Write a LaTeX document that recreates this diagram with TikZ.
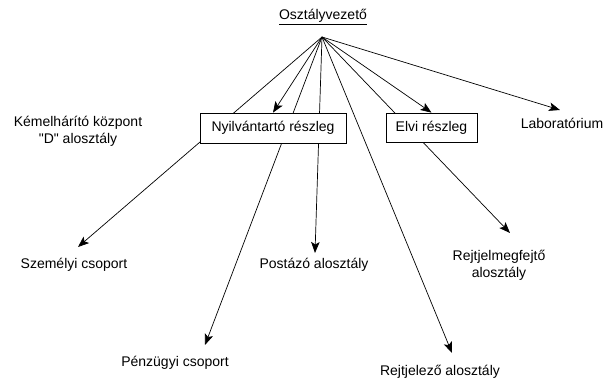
\documentclass[tikz,border=0pt]{standalone}
\usepackage{fontspec}
\setmainfont{Liberation Sans}
\usetikzlibrary{arrows.meta}
\begin{document}
\begin{tikzpicture}[x=1pt,y=1pt,yscale=-1,xscale=1,
        every node/.style={font=\fontsize{14}{17}\selectfont},
        vonal/.style={line width=0.7pt},
        nyil/.style={vonal,-{Stealth[length=11pt,width=8.5pt,inset=2.5pt]}},
        reszleg/.style={draw,line width=0.7pt,fill=white,inner sep=0pt}]
        \useasboundingbox (0,0) rectangle (606,379);
        %Shape: Hub point
        \coordinate (hub) at (322,37);
        \coordinate (szemelyi-tip) at (78,247);
        \coordinate (penzugyi-tip) at (205,345);
        \coordinate (postazo-tip) at (315,253);
        \coordinate (rejtjelezo-tip) at (452,353);
        \coordinate (megfejto-tip) at (510,233);
        \coordinate (labor-tip) at (560,110);

        % Text Node
        \node (boss) at (323,17) {\underline{Osztályvezető}};
        % Text Node
        \node (kemel) [align=center] at (78,131.5) {Kémelhárító központ\\\textquotedbl D\textquotedbl\ alosztály};
        % Text Node
        \node (labor) at (562,123) {Laboratórium};
        % Text Node
        \node (szemelyi) at (74,265) {Személyi csoport};
        % Text Node
        \node (postazo) at (314,265) {Postázó alosztály};
        % Text Node
        \node (megfejto) [align=center] at (499,265) {Rejtjelmegfejtő\\alosztály};
        % Text Node
        \node (penzugyi) at (175,363) {Pénzügyi csoport};
        % Text Node
        \node (rejtjelezo) at (440,372) {Rejtjelező alosztály};

        %Straight Lines (behind the boxes)
        \draw [nyil] (hub) -- (szemelyi-tip);
        \draw [nyil] (hub) -- (penzugyi-tip);
        \draw [nyil] (hub) -- (postazo-tip);
        \draw [nyil] (hub) -- (rejtjelezo-tip);
        \draw [nyil] (hub) -- (megfejto-tip);
        \draw [nyil] (hub) -- (labor-tip);

        %Shape: Rectangle
        \node (nyilv) [reszleg,minimum width=146,minimum height=30] at (273,128) {Nyilvántartó részleg};
        %Shape: Rectangle
        \node (elvi) [reszleg,minimum width=91,minimum height=29] at (431.5,127.5) {Elvi részleg};

        %Straight Lines
        \draw [nyil] (hub) -- (nyilv.north);
        \draw [nyil] (hub) -- (elvi.north);
\end{tikzpicture}
\end{document}
